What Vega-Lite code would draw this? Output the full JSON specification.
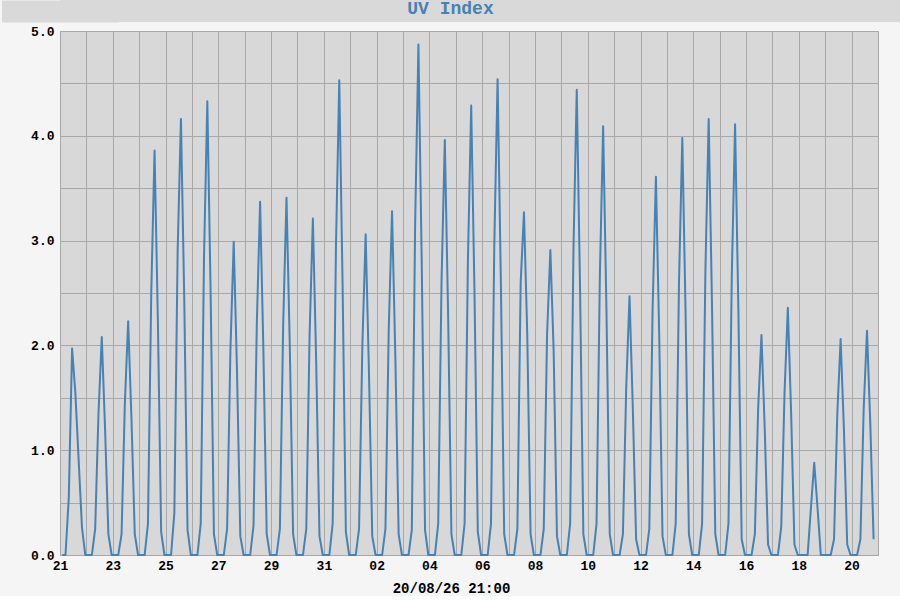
{
  "$schema": "https://vega.github.io/schema/vega-lite/v6.json",
  "background": "#f5f5f5",
  "padding": 0,
  "spacing": 2,
  "config": {"view": {"stroke": null}},
  "vconcat": [
    {
      "width": 841,
      "height": 22,
      "view": {"fill": "#d9d9d9", "stroke": null},
      "data": {"values": [{"label": "UV Index"}]},
      "mark": {"type": "text", "font": "Liberation Mono", "fontWeight": "bold", "fontSize": 18, "color": "#4682b4", "baseline": "middle", "dy": -2, "dx": -30},
      "encoding": {
        "text": {"field": "label"},
        "y": {
          "datum": 0,
          "type": "quantitative",
          "scale": {"domain": [-1, 1]},
          "axis": {"title": null, "labels": false, "ticks": false, "grid": false, "domain": true, "domainColor": "#d9d9d9", "domainWidth": 117}
        }
      }
    },
    {
      "width": 818,
      "height": 524,
      "view": {"fill": "#d8d8d8", "stroke": "#a8a8a8"},
      "data": {"values": [
        {"t": "2026-07-21T02:00", "v": 0}, {"t": "2026-07-21T05:00", "v": 0}, {"t": "2026-07-21T08:00", "v": 0.55}, {"t": "2026-07-21T11:00", "v": 1.97}, {"t": "2026-07-21T14:00", "v": 1.54}, {"t": "2026-07-21T17:00", "v": 0.9}, {"t": "2026-07-21T20:00", "v": 0.26}, {"t": "2026-07-21T23:00", "v": 0},
        {"t": "2026-07-22T02:00", "v": 0}, {"t": "2026-07-22T05:00", "v": 0}, {"t": "2026-07-22T08:00", "v": 0.25}, {"t": "2026-07-22T11:00", "v": 1.35}, {"t": "2026-07-22T14:00", "v": 2.08}, {"t": "2026-07-22T17:00", "v": 1.2}, {"t": "2026-07-22T20:00", "v": 0.2}, {"t": "2026-07-22T23:00", "v": 0},
        {"t": "2026-07-23T02:00", "v": 0}, {"t": "2026-07-23T05:00", "v": 0}, {"t": "2026-07-23T08:00", "v": 0.2}, {"t": "2026-07-23T11:00", "v": 1.45}, {"t": "2026-07-23T14:00", "v": 2.23}, {"t": "2026-07-23T17:00", "v": 1.3}, {"t": "2026-07-23T20:00", "v": 0.2}, {"t": "2026-07-23T23:00", "v": 0},
        {"t": "2026-07-24T02:00", "v": 0}, {"t": "2026-07-24T05:00", "v": 0}, {"t": "2026-07-24T08:00", "v": 0.3}, {"t": "2026-07-24T11:00", "v": 2.5}, {"t": "2026-07-24T14:00", "v": 3.86}, {"t": "2026-07-24T17:00", "v": 2.25}, {"t": "2026-07-24T20:00", "v": 0.22}, {"t": "2026-07-24T23:00", "v": 0},
        {"t": "2026-07-25T02:00", "v": 0}, {"t": "2026-07-25T05:00", "v": 0}, {"t": "2026-07-25T08:00", "v": 0.4}, {"t": "2026-07-25T11:00", "v": 2.9}, {"t": "2026-07-25T14:00", "v": 4.16}, {"t": "2026-07-25T17:00", "v": 2.45}, {"t": "2026-07-25T20:00", "v": 0.24}, {"t": "2026-07-25T23:00", "v": 0},
        {"t": "2026-07-26T02:00", "v": 0}, {"t": "2026-07-26T05:00", "v": 0}, {"t": "2026-07-26T08:00", "v": 0.3}, {"t": "2026-07-26T11:00", "v": 2.85}, {"t": "2026-07-26T14:00", "v": 4.33}, {"t": "2026-07-26T17:00", "v": 2.5}, {"t": "2026-07-26T20:00", "v": 0.2}, {"t": "2026-07-26T23:00", "v": 0},
        {"t": "2026-07-27T02:00", "v": 0}, {"t": "2026-07-27T05:00", "v": 0}, {"t": "2026-07-27T08:00", "v": 0.25}, {"t": "2026-07-27T11:00", "v": 1.95}, {"t": "2026-07-27T14:00", "v": 2.99}, {"t": "2026-07-27T17:00", "v": 1.75}, {"t": "2026-07-27T20:00", "v": 0.18}, {"t": "2026-07-27T23:00", "v": 0},
        {"t": "2026-07-28T02:00", "v": 0}, {"t": "2026-07-28T05:00", "v": 0}, {"t": "2026-07-28T08:00", "v": 0.28}, {"t": "2026-07-28T11:00", "v": 2.2}, {"t": "2026-07-28T14:00", "v": 3.37}, {"t": "2026-07-28T17:00", "v": 1.95}, {"t": "2026-07-28T20:00", "v": 0.2}, {"t": "2026-07-28T23:00", "v": 0},
        {"t": "2026-07-29T02:00", "v": 0}, {"t": "2026-07-29T05:00", "v": 0}, {"t": "2026-07-29T08:00", "v": 0.25}, {"t": "2026-07-29T11:00", "v": 2.2}, {"t": "2026-07-29T14:00", "v": 3.41}, {"t": "2026-07-29T17:00", "v": 2.0}, {"t": "2026-07-29T20:00", "v": 0.2}, {"t": "2026-07-29T23:00", "v": 0},
        {"t": "2026-07-30T02:00", "v": 0}, {"t": "2026-07-30T05:00", "v": 0}, {"t": "2026-07-30T08:00", "v": 0.25}, {"t": "2026-07-30T11:00", "v": 2.1}, {"t": "2026-07-30T14:00", "v": 3.21}, {"t": "2026-07-30T17:00", "v": 1.85}, {"t": "2026-07-30T20:00", "v": 0.18}, {"t": "2026-07-30T23:00", "v": 0},
        {"t": "2026-07-31T02:00", "v": 0}, {"t": "2026-07-31T05:00", "v": 0}, {"t": "2026-07-31T08:00", "v": 0.3}, {"t": "2026-07-31T11:00", "v": 2.95}, {"t": "2026-07-31T14:00", "v": 4.53}, {"t": "2026-07-31T17:00", "v": 2.6}, {"t": "2026-07-31T20:00", "v": 0.22}, {"t": "2026-07-31T23:00", "v": 0},
        {"t": "2026-08-01T02:00", "v": 0}, {"t": "2026-08-01T05:00", "v": 0}, {"t": "2026-08-01T08:00", "v": 0.25}, {"t": "2026-08-01T11:00", "v": 2.0}, {"t": "2026-08-01T14:00", "v": 3.06}, {"t": "2026-08-01T17:00", "v": 1.75}, {"t": "2026-08-01T20:00", "v": 0.18}, {"t": "2026-08-01T23:00", "v": 0},
        {"t": "2026-08-02T02:00", "v": 0}, {"t": "2026-08-02T05:00", "v": 0}, {"t": "2026-08-02T08:00", "v": 0.25}, {"t": "2026-08-02T11:00", "v": 2.15}, {"t": "2026-08-02T14:00", "v": 3.28}, {"t": "2026-08-02T17:00", "v": 1.9}, {"t": "2026-08-02T20:00", "v": 0.2}, {"t": "2026-08-02T23:00", "v": 0},
        {"t": "2026-08-03T02:00", "v": 0}, {"t": "2026-08-03T05:00", "v": 0}, {"t": "2026-08-03T08:00", "v": 0.24}, {"t": "2026-08-03T11:00", "v": 3.15}, {"t": "2026-08-03T14:00", "v": 4.87}, {"t": "2026-08-03T17:00", "v": 2.8}, {"t": "2026-08-03T20:00", "v": 0.24}, {"t": "2026-08-03T23:00", "v": 0},
        {"t": "2026-08-04T02:00", "v": 0}, {"t": "2026-08-04T05:00", "v": 0}, {"t": "2026-08-04T08:00", "v": 0.3}, {"t": "2026-08-04T11:00", "v": 2.6}, {"t": "2026-08-04T14:00", "v": 3.96}, {"t": "2026-08-04T17:00", "v": 2.3}, {"t": "2026-08-04T20:00", "v": 0.2}, {"t": "2026-08-04T23:00", "v": 0},
        {"t": "2026-08-05T02:00", "v": 0}, {"t": "2026-08-05T05:00", "v": 0}, {"t": "2026-08-05T08:00", "v": 0.3}, {"t": "2026-08-05T11:00", "v": 2.8}, {"t": "2026-08-05T14:00", "v": 4.29}, {"t": "2026-08-05T17:00", "v": 2.5}, {"t": "2026-08-05T20:00", "v": 0.22}, {"t": "2026-08-05T23:00", "v": 0},
        {"t": "2026-08-06T02:00", "v": 0}, {"t": "2026-08-06T05:00", "v": 0}, {"t": "2026-08-06T08:00", "v": 0.3}, {"t": "2026-08-06T11:00", "v": 2.95}, {"t": "2026-08-06T14:00", "v": 4.54}, {"t": "2026-08-06T17:00", "v": 2.6}, {"t": "2026-08-06T20:00", "v": 0.2}, {"t": "2026-08-06T23:00", "v": 0},
        {"t": "2026-08-07T02:00", "v": 0}, {"t": "2026-08-07T05:00", "v": 0}, {"t": "2026-08-07T08:00", "v": 0.25}, {"t": "2026-08-07T11:00", "v": 2.6}, {"t": "2026-08-07T14:00", "v": 3.27}, {"t": "2026-08-07T17:00", "v": 2.1}, {"t": "2026-08-07T20:00", "v": 0.2}, {"t": "2026-08-07T23:00", "v": 0},
        {"t": "2026-08-08T02:00", "v": 0}, {"t": "2026-08-08T05:00", "v": 0}, {"t": "2026-08-08T08:00", "v": 0.25}, {"t": "2026-08-08T11:00", "v": 2.1}, {"t": "2026-08-08T14:00", "v": 2.91}, {"t": "2026-08-08T17:00", "v": 1.95}, {"t": "2026-08-08T20:00", "v": 0.18}, {"t": "2026-08-08T23:00", "v": 0},
        {"t": "2026-08-09T02:00", "v": 0}, {"t": "2026-08-09T05:00", "v": 0}, {"t": "2026-08-09T08:00", "v": 0.3}, {"t": "2026-08-09T11:00", "v": 2.9}, {"t": "2026-08-09T14:00", "v": 4.44}, {"t": "2026-08-09T17:00", "v": 2.55}, {"t": "2026-08-09T20:00", "v": 0.2}, {"t": "2026-08-09T23:00", "v": 0},
        {"t": "2026-08-10T02:00", "v": 0}, {"t": "2026-08-10T05:00", "v": 0}, {"t": "2026-08-10T08:00", "v": 0.3}, {"t": "2026-08-10T11:00", "v": 2.65}, {"t": "2026-08-10T14:00", "v": 4.09}, {"t": "2026-08-10T17:00", "v": 2.35}, {"t": "2026-08-10T20:00", "v": 0.2}, {"t": "2026-08-10T23:00", "v": 0},
        {"t": "2026-08-11T02:00", "v": 0}, {"t": "2026-08-11T05:00", "v": 0}, {"t": "2026-08-11T08:00", "v": 0.2}, {"t": "2026-08-11T11:00", "v": 1.6}, {"t": "2026-08-11T14:00", "v": 2.47}, {"t": "2026-08-11T17:00", "v": 1.4}, {"t": "2026-08-11T20:00", "v": 0.15}, {"t": "2026-08-11T23:00", "v": 0},
        {"t": "2026-08-12T02:00", "v": 0}, {"t": "2026-08-12T05:00", "v": 0}, {"t": "2026-08-12T08:00", "v": 0.25}, {"t": "2026-08-12T11:00", "v": 2.35}, {"t": "2026-08-12T14:00", "v": 3.61}, {"t": "2026-08-12T17:00", "v": 2.1}, {"t": "2026-08-12T20:00", "v": 0.18}, {"t": "2026-08-12T23:00", "v": 0},
        {"t": "2026-08-13T02:00", "v": 0}, {"t": "2026-08-13T05:00", "v": 0}, {"t": "2026-08-13T08:00", "v": 0.3}, {"t": "2026-08-13T11:00", "v": 2.6}, {"t": "2026-08-13T14:00", "v": 3.98}, {"t": "2026-08-13T17:00", "v": 2.3}, {"t": "2026-08-13T20:00", "v": 0.2}, {"t": "2026-08-13T23:00", "v": 0},
        {"t": "2026-08-14T02:00", "v": 0}, {"t": "2026-08-14T05:00", "v": 0}, {"t": "2026-08-14T08:00", "v": 0.3}, {"t": "2026-08-14T11:00", "v": 2.7}, {"t": "2026-08-14T14:00", "v": 4.16}, {"t": "2026-08-14T17:00", "v": 2.4}, {"t": "2026-08-14T20:00", "v": 0.2}, {"t": "2026-08-14T23:00", "v": 0},
        {"t": "2026-08-15T02:00", "v": 0}, {"t": "2026-08-15T05:00", "v": 0}, {"t": "2026-08-15T08:00", "v": 0.3}, {"t": "2026-08-15T11:00", "v": 2.65}, {"t": "2026-08-15T14:00", "v": 4.11}, {"t": "2026-08-15T17:00", "v": 2.35}, {"t": "2026-08-15T20:00", "v": 0.15}, {"t": "2026-08-15T23:00", "v": 0},
        {"t": "2026-08-16T02:00", "v": 0}, {"t": "2026-08-16T05:00", "v": 0}, {"t": "2026-08-16T08:00", "v": 0.2}, {"t": "2026-08-16T11:00", "v": 1.4}, {"t": "2026-08-16T14:00", "v": 2.1}, {"t": "2026-08-16T17:00", "v": 1.2}, {"t": "2026-08-16T20:00", "v": 0.1}, {"t": "2026-08-16T23:00", "v": 0},
        {"t": "2026-08-17T02:00", "v": 0}, {"t": "2026-08-17T05:00", "v": 0}, {"t": "2026-08-17T08:00", "v": 0.27}, {"t": "2026-08-17T11:00", "v": 1.55}, {"t": "2026-08-17T14:00", "v": 2.36}, {"t": "2026-08-17T17:00", "v": 1.35}, {"t": "2026-08-17T20:00", "v": 0.1}, {"t": "2026-08-17T23:00", "v": 0},
        {"t": "2026-08-18T02:00", "v": 0}, {"t": "2026-08-18T05:00", "v": 0}, {"t": "2026-08-18T08:00", "v": 0}, {"t": "2026-08-18T11:00", "v": 0.45}, {"t": "2026-08-18T14:00", "v": 0.88}, {"t": "2026-08-18T17:00", "v": 0.45}, {"t": "2026-08-18T20:00", "v": 0}, {"t": "2026-08-18T23:00", "v": 0},
        {"t": "2026-08-19T02:00", "v": 0}, {"t": "2026-08-19T05:00", "v": 0}, {"t": "2026-08-19T08:00", "v": 0.15}, {"t": "2026-08-19T11:00", "v": 1.35}, {"t": "2026-08-19T14:00", "v": 2.06}, {"t": "2026-08-19T17:00", "v": 1.2}, {"t": "2026-08-19T20:00", "v": 0.1}, {"t": "2026-08-19T23:00", "v": 0},
        {"t": "2026-08-20T02:00", "v": 0}, {"t": "2026-08-20T05:00", "v": 0}, {"t": "2026-08-20T08:00", "v": 0.15}, {"t": "2026-08-20T11:00", "v": 1.4}, {"t": "2026-08-20T14:00", "v": 2.14}, {"t": "2026-08-20T17:00", "v": 1.25}, {"t": "2026-08-20T20:00", "v": 0.15}
      ]},
      "mark": {"type": "line", "color": "#4682b4", "strokeWidth": 2, "strokeJoin": "round"},
      "encoding": {
        "x": {
          "field": "t",
          "type": "temporal",
          "scale": {"domain": [{"year": 2026, "month": "jul", "date": 21}, {"year": 2026, "month": "aug", "date": 21}]},
          "axis": {
            "title": "20/08/26 21:00",
            "titleFont": "Liberation Mono",
            "titleFontWeight": "bold",
            "titleFontSize": 14,
            "titleColor": "#000000",
            "titleX": 391,
            "titlePadding": 9,
            "tickCount": {"interval": "day", "step": 1},
            "labelExpr": "round((datum.value - datetime(2026, 6, 21)) / 86400000) % 2 == 0 ? timeFormat(datum.value, '%d') : ''",
            "labelFont": "Liberation Mono",
            "labelFontWeight": "bold",
            "labelFontSize": 13,
            "labelColor": "#000000",
            "labelPadding": 4,
            "labelFlush": false,
            "labelOverlap": false,
            "ticks": false,
            "domain": false,
            "grid": true,
            "gridColor": "#a8a8a8",
            "gridWidth": 1
          }
        },
        "y": {
          "field": "v",
          "type": "quantitative",
          "scale": {"domain": [0, 5], "nice": false},
          "axis": {
            "title": null,
            "values": [0, 0.5, 1, 1.5, 2, 2.5, 3, 3.5, 4, 4.5, 5],
            "labelExpr": "datum.value % 1 == 0 ? format(datum.value, '.1f') : ''",
            "labelFont": "Liberation Mono",
            "labelFontWeight": "bold",
            "labelFontSize": 13,
            "labelColor": "#000000",
            "labelPadding": 6,
            "minExtent": 59,
            "maxExtent": 59,
            "ticks": false,
            "domain": false,
            "grid": true,
            "gridColor": "#a8a8a8",
            "gridWidth": 1
          }
        }
      }
    }
  ]
}
